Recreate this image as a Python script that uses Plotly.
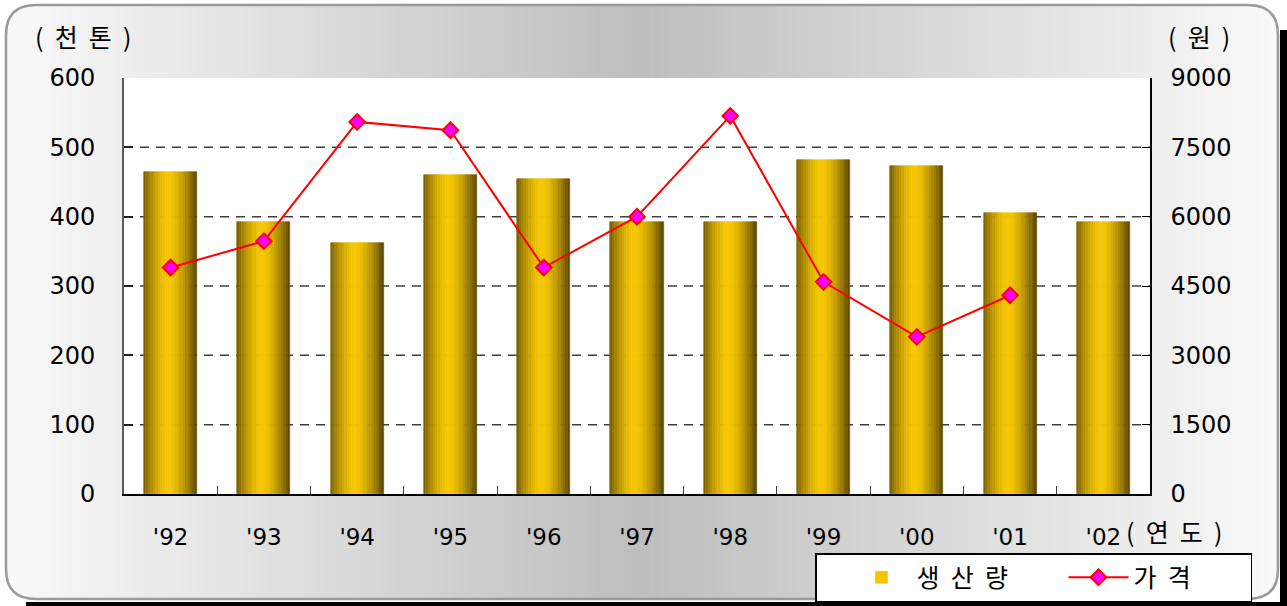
import plotly.graph_objects as go

# ---------------- data ----------------
years = ["'92", "'93", "'94", "'95", "'96", "'97", "'98", "'99", "'00", "'01", "'02"]
production = [464, 392, 362, 460, 454, 392, 392, 482, 473, 405, 392]   # 천 톤
price = [4900, 5470, 8050, 7870, 4900, 6000, 8180, 4590, 3400, 4300, None]  # 원
left_ticks = [0, 100, 200, 300, 400, 500, 600]
right_ticks = [0, 1500, 3000, 4500, 6000, 7500, 9000]
grid_levels = [100, 200, 300, 400, 500]

# ---------------- geometry ----------------
W, H = 1287, 606
ML, MR, MT, MB = 124, 137, 78, 112
PW, PH = W - ML - MR, H - MT - MB


def px(x):
    return (x - ML) / PW


def py(y):
    return (H - MB - y) / PH


FONT_NUM = "DejaVu Sans"
FONT_KR = "Noto Sans CJK KR"

fig = go.Figure()

# cylinder-like gradient bars built from vertical strips
N = 22
bw = 0.57
gold = (248, 200, 0)
dark = (88, 70, 2)
for i in range(N):
    t = (i + 0.5) / N
    d = abs(t - 0.47) / 0.53
    f = min(1.0, d) ** 1.6
    c = tuple(int(gold[k] + (dark[k] - gold[k]) * f) for k in range(3))
    col = "rgb(%d,%d,%d)" % c
    fig.add_trace(go.Bar(
        x=years, y=production, width=bw / N, offset=-bw / 2 + i * bw / N,
        marker=dict(color=col, line=dict(color=col, width=0.6)),
        name="생  산  량", legendgroup="prod",
        showlegend=(i == N // 2), hoverinfo="skip" if i != N // 2 else None,
    ))

fig.add_trace(go.Scatter(
    x=years, y=price, yaxis="y2", mode="lines+markers", name="가  격",
    line=dict(color="#ff0000", width=2),
    marker=dict(symbol="diamond", size=12, color="#ff00ff",
                line=dict(color="#ff0000", width=2)),
))

shapes = []
# outer shadow
shapes.append(dict(type="rect", xref="paper", yref="paper", layer="below",
                   x0=px(1280), x1=px(1287), y0=py(606), y1=py(30),
                   fillcolor="black", line=dict(width=0)))
shapes.append(dict(type="rect", xref="paper", yref="paper", layer="below",
                   x0=px(26), x1=px(1287), y0=py(606), y1=py(602),
                   fillcolor="black", line=dict(width=0)))

# horizontal gradient background strips
X0, X1, Y0, Y1 = 6, 1278, 5, 599
NS = 140
for i in range(NS):
    xa = X0 + (X1 - X0) * i / NS
    xb = X0 + (X1 - X0) * (i + 1) / NS + 0.6
    t = (i + 0.5) / NS
    if t < 0.5:
        v = 250 - (250 - 190) * (t / 0.5)
    else:
        v = 190 + (250 - 190) * ((t - 0.5) / 0.5)
    v = int(v)
    shapes.append(dict(type="rect", xref="paper", yref="paper", layer="below",
                       x0=px(xa), x1=px(xb), y0=py(Y1), y1=py(Y0),
                       fillcolor="rgb(%d,%d,%d)" % (v, v, v), line=dict(width=0)))

R = 30
# rounded-corner masks
corners = [
    ((X0, Y0), (X0 + R, Y0), (X0, Y0 + R)),
    ((X1, Y0), (X1 - R, Y0), (X1, Y0 + R)),
    ((X0, Y1), (X0 + R, Y1), (X0, Y1 - R)),
    ((X1, Y1), (X1 - R, Y1), (X1, Y1 - R)),
]
for (cx, cy), (ax, ay), (bx, by) in corners:
    path = "M %f,%f L %f,%f Q %f,%f %f,%f Z" % (
        px(cx), py(cy), px(ax), py(ay), px(cx), py(cy), px(bx), py(by))
    shapes.append(dict(type="path", xref="paper", yref="paper", layer="below",
                       path=path, fillcolor="white", line=dict(width=0)))
# frame outline
frame = ("M %f,%f L %f,%f Q %f,%f %f,%f L %f,%f Q %f,%f %f,%f L %f,%f Q %f,%f %f,%f "
         "L %f,%f Q %f,%f %f,%f Z") % (
    px(X0 + R), py(Y0), px(X1 - R), py(Y0), px(X1), py(Y0), px(X1), py(Y0 + R),
    px(X1), py(Y1 - R), px(X1), py(Y1), px(X1 - R), py(Y1),
    px(X0 + R), py(Y1), px(X0), py(Y1), px(X0), py(Y1 - R),
    px(X0), py(Y0 + R), px(X0), py(Y0), px(X0 + R), py(Y0))
shapes.append(dict(type="path", xref="paper", yref="paper", layer="below",
                   path=frame, line=dict(color="#9a9a9a", width=2.5)))

# white plot area
shapes.append(dict(type="rect", xref="x domain", yref="y domain", layer="below",
                   x0=0, x1=1, y0=0, y1=1, fillcolor="white", line=dict(width=0)))
# dashed gridlines
for g in grid_levels:
    shapes.append(dict(type="line", xref="x domain", yref="y", layer="below",
                       x0=0, x1=1, y0=g, y1=g,
                       line=dict(color="#404040", width=1.5, dash="9px,7px")))

# legend shadow
shapes.append(dict(type="rect", xref="paper", yref="paper", layer="above",
                   x0=px(822), x1=px(1252), y0=py(606), y1=py(559),
                   fillcolor="black", line=dict(width=0)))

annotations = [
    dict(text="(  천  톤  )", xref="paper", yref="paper", x=px(33), y=py(36),
         xanchor="left", yanchor="middle", showarrow=False,
         font=dict(family=FONT_KR, size=25, color="black")),
    dict(text="(  원  )", xref="paper", yref="paper", x=px(1166), y=py(36),
         xanchor="left", yanchor="middle", showarrow=False,
         font=dict(family=FONT_KR, size=25, color="black")),
    dict(text="(  연  도  )", xref="paper", yref="paper", x=px(1124), y=py(531),
         xanchor="left", yanchor="middle", showarrow=False,
         font=dict(family=FONT_KR, size=25, color="black")),
]

fig.update_layout(
    width=W, height=H,
    margin=dict(l=ML, r=MR, t=MT, b=MB, pad=0, autoexpand=False),
    paper_bgcolor="white", plot_bgcolor="rgba(0,0,0,0)",
    barmode="overlay", bargap=0,
    shapes=shapes, annotations=annotations,
    showlegend=True,
    legend=dict(
        orientation="h", xref="container", yref="container",
        x=815 / W, y=1 - 553 / H, xanchor="left", yanchor="top",
        bgcolor="white", bordercolor="black", borderwidth=1.5,
        font=dict(family=FONT_KR, size=25, color="black"),
        entrywidth=112, itemwidth=60, indentation=30, traceorder="normal",
    ),
    xaxis=dict(
        type="category", showgrid=False, showline=True, linecolor="black",
        linewidth=1.5, ticks="inside", tickson="boundaries", ticklen=8,
        tickcolor="#404040", tickwidth=1.2, automargin=False,
        tickfont=dict(family=FONT_NUM, size=23, color="black"),
        ticklabelstandoff=22, range=[-0.5, 10.5],
    ),
    yaxis=dict(
        range=[0, 600], tickvals=left_ticks, showgrid=False, zeroline=False,
        showline=True, linecolor="#5a5a5a", linewidth=2, automargin=False,
        ticks="inside", ticklen=9, tickcolor="#202020", tickwidth=1.5,
        tickfont=dict(family=FONT_NUM, size=24, color="black"),
        ticklabelstandoff=22,
    ),
    yaxis2=dict(
        range=[0, 9000], tickvals=right_ticks, overlaying="y", side="right",
        showgrid=False, zeroline=False, showline=True, linecolor="black",
        linewidth=1.5, ticks="inside", ticklen=8, tickcolor="black",
        tickwidth=1.2, automargin=False,
        tickfont=dict(family=FONT_NUM, size=24, color="black"),
        ticklabelstandoff=14,
    ),
)

fig.write_html("out.html", config={"displayModeBar": False},
               post_script="document.body.style.margin='0';")
